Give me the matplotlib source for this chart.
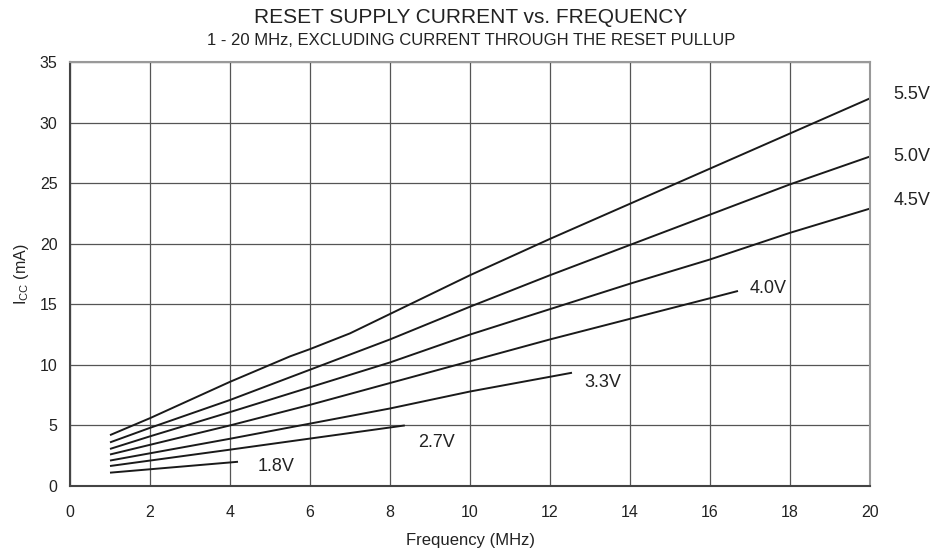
import matplotlib
matplotlib.use("Agg")
import matplotlib.pyplot as plt

# values (MHz -> mA)
f_55 = [1, 2, 3, 4, 5, 5.5, 6, 7, 8, 9, 10, 12, 14, 16, 18, 20]
i_55 = [4.2, 5.6, 7.1, 8.6, 10.0, 10.7, 11.3, 12.6, 14.2, 15.8, 17.4, 20.4, 23.3, 26.2, 29.1, 32.0]

f_50 = [1, 2, 4, 6, 8, 10, 12, 14, 16, 18, 20]
i_50 = [3.6, 4.8, 7.1, 9.6, 12.1, 14.8, 17.4, 19.9, 22.4, 24.9, 27.2]

f_45 = [1, 2, 4, 6, 8, 10, 12, 14, 16, 18, 20]
i_45 = [3.06, 4.1, 6.1, 8.15, 10.2, 12.5, 14.6, 16.7, 18.7, 20.9, 22.9]

f_40 = [1, 2, 4, 6, 8, 10, 12, 14, 16, 16.7]
i_40 = [2.6, 3.4, 5.0, 6.7, 8.5, 10.3, 12.1, 13.8, 15.5, 16.1]

f_33 = [1, 4, 8, 10, 12.55]
i_33 = [2.1, 3.9, 6.4, 7.8, 9.35]

f_27 = [1, 4, 8.37]
i_27 = [1.65, 3.0, 5.0]

f_18 = [1, 4.2]
i_18 = [1.1, 2.0]

curves = [(f_55, i_55), (f_50, i_50), (f_45, i_45), (f_40, i_40),
          (f_33, i_33), (f_27, i_27), (f_18, i_18)]
labels = ['5.5V', '5.0V', '4.5V', '4.0V', '3.3V', '2.7V', '1.8V']
label_pos = [(20.58, 32.3), (20.58, 27.2), (20.58, 23.6), (17.0, 16.3),
             (12.85, 8.55), (8.7, 3.55), (4.7, 1.6)]

plt.rcParams['font.family'] = ['Liberation Sans', 'DejaVu Sans']
txt = '#222222'

fig = plt.figure(figsize=(9.42, 5.55), dpi=100)
ax = fig.add_axes([70 / 942, 1 - 486 / 555, 800 / 942, 424 / 555])

for (fx, iy) in curves:
    ax.plot(fx, iy, color='#1a1a1a', linewidth=1.4, solid_capstyle='butt')

for lab, (x, y) in zip(labels, label_pos):
    ax.text(x, y, lab, fontsize=13, color=txt, va='center', ha='left', clip_on=False)

ax.set_xlim(0, 20)
ax.set_ylim(0, 35)
ax.set_xticks(range(0, 21, 2))
ax.set_yticks(range(0, 36, 5))
ax.grid(True, color='#555555', linewidth=0.9)
ax.tick_params(length=0, labelsize=11.5, labelcolor=txt)
ax.tick_params(axis='x', pad=14)
ax.tick_params(axis='y', pad=9)
for name, sp in ax.spines.items():
    sp.set_color('#444444' if name in ('left', 'bottom') else '#999999')
    sp.set_linewidth(1.5)

ax.set_xlabel('Frequency (MHz)', fontsize=12, color=txt, labelpad=9)
ax.set_ylabel(r'I$_\mathregular{CC}$ (mA)', fontsize=11.5, color=txt, labelpad=6)

fig.text(0.5, 1 - 23 / 555, 'RESET SUPPLY CURRENT vs. FREQUENCY', ha='center', va='baseline',
         fontsize=15, color=txt)
fig.text(0.5, 1 - 45 / 555, '1 - 20 MHz, EXCLUDING CURRENT THROUGH THE RESET PULLUP',
         ha='center', va='baseline', fontsize=12, color=txt)

fig.savefig('out.png', dpi=100)
